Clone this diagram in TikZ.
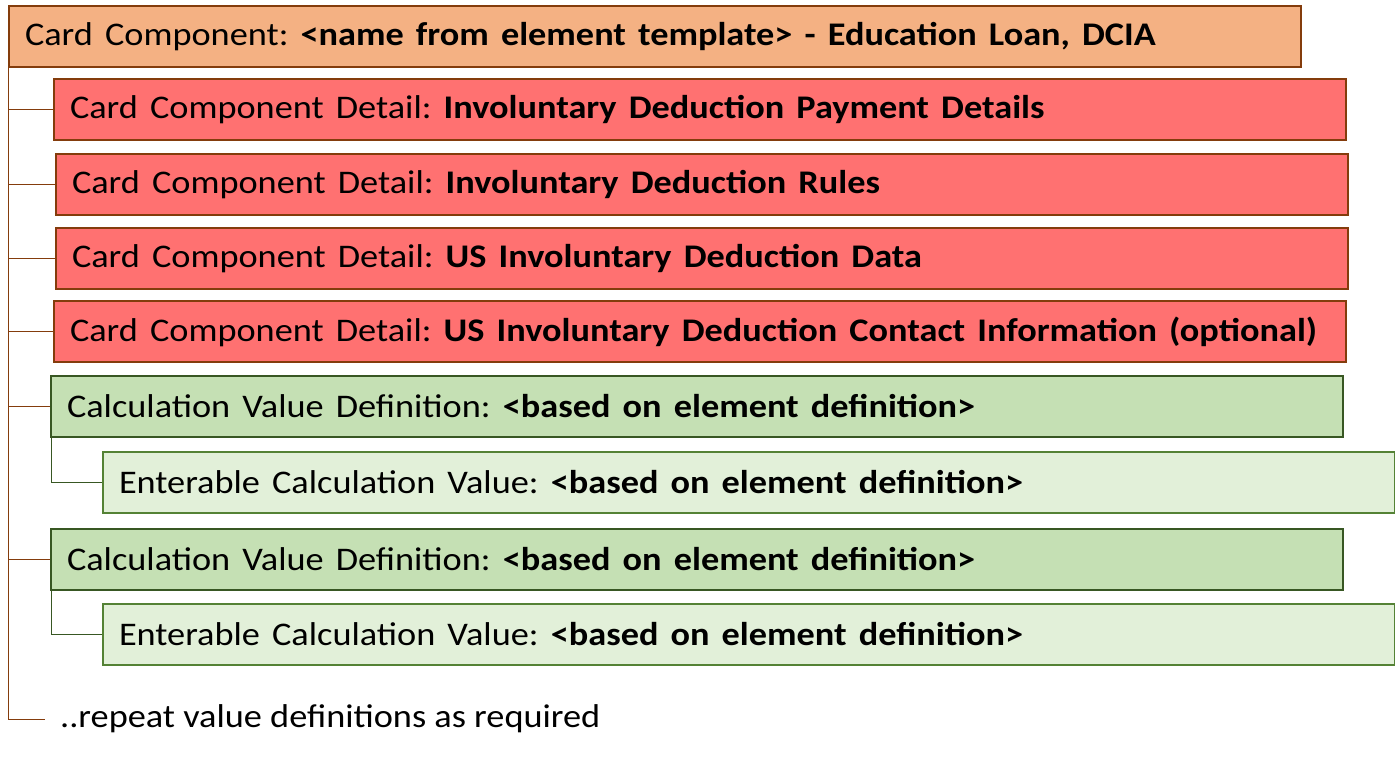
\documentclass[tikz,border=0pt]{standalone}
\usepackage{graphicx}
\usepackage{fontspec}
\setmainfont{Carlito}
\frenchspacing
\definecolor{cardfill}{HTML}{F4B183}
\definecolor{cardline}{HTML}{843C0C}
\definecolor{detfill}{HTML}{FF7171}
\definecolor{calcfill}{HTML}{C5E0B4}
\definecolor{calcline}{HTML}{385723}
\definecolor{entfill}{HTML}{E2F0D9}
\definecolor{entline}{HTML}{548235}
\newcommand{\wtxt}[1]{\scalebox{1.1}[1]{#1}}
\begin{document}
\begin{tikzpicture}[x=1pt,y=-1pt]
\tikzset{ box/.style={draw, line width=2pt, anchor=north west, minimum height=61pt,
          text width=1260pt, inner xsep=16pt, inner ysep=0pt, align=left,
          font=\fontsize{33}{38}\selectfont},
          card/.style={box, fill=cardfill, draw=cardline},
          detail/.style={box, fill=detfill, draw=cardline},
          calc/.style={box, fill=calcfill, draw=calcline},
          enter/.style={box, fill=entfill, draw=entline},
          tree/.style={cardline, line width=1pt},
          subtree/.style={calcline, line width=1pt} }
\useasboundingbox (0,0) rectangle (1395,764);

\node [card]   (C)  at (8,5)    {\wtxt{Card Component: \textbf{<name from element template> - Education Loan, DCIA}}};
\node [detail] (D1) at (53,78)  {\wtxt{Card Component Detail: \textbf{Involuntary Deduction Payment Details}}};
\node [detail] (D2) at (55,153) {\wtxt{Card Component Detail: \textbf{Involuntary Deduction Rules}}};
\node [detail] (D3) at (55,227) {\wtxt{Card Component Detail: \textbf{US Involuntary Deduction Data}}};
\node [detail] (D4) at (53,300) {\wtxt{Card Component Detail: \textbf{US Involuntary Deduction Contact Information (optional)}}};
\node [calc]   (V1) at (50,375) {\wtxt{Calculation Value Definition: \textbf{<based on element definition>}}};
\node [enter]  (E1) at (102,451) {\wtxt{Enterable Calculation Value: \textbf{<based on element definition>}}};
\node [calc]   (V2) at (50,528) {\wtxt{Calculation Value Definition: \textbf{<based on element definition>}}};
\node [enter]  (E2) at (102,603) {\wtxt{Enterable Calculation Value: \textbf{<based on element definition>}}};
\node [anchor=west, inner xsep=15pt, font=\fontsize{33}{38}\selectfont] (R) at (45,719) {\wtxt{..repeat value definitions as required}};

% main tree
\draw [tree] (C.south west) |- (R.west);
\foreach \n in {D1,D2,D3,D4,V1,V2}
  \draw [tree] (\n.west -| C.south west) -- (\n.west);

% value sub tree
\draw [subtree] (V1.south west) ++(1,0) |- (E1.west);
\draw [subtree] (V2.south west) ++(1,0) |- (E2.west);

\end{tikzpicture}
\end{document}
